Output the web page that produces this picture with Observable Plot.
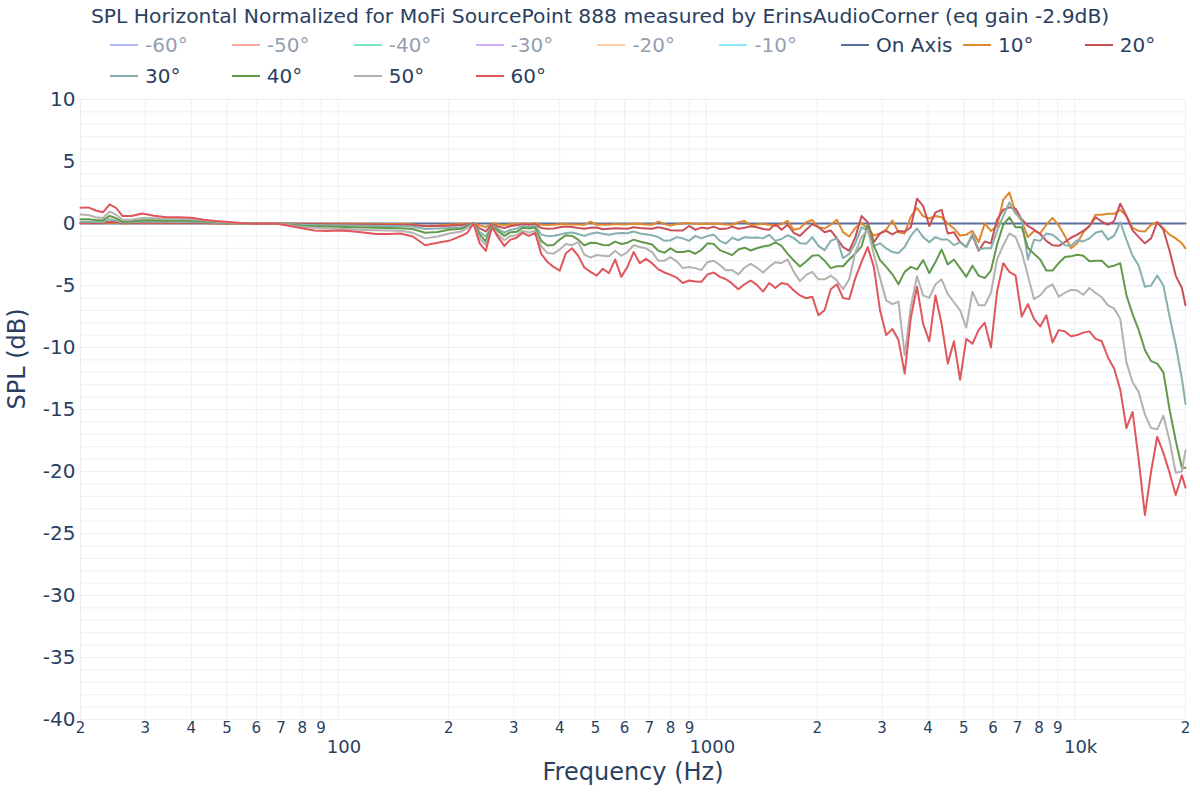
<!DOCTYPE html>
<html>
<head>
<meta charset="utf-8">
<script src="https://cdn.jsdelivr.net/npm/d3@7"></script>
<script src="https://cdn.jsdelivr.net/npm/@observablehq/plot@0.6"></script>
<style>
  html, body { margin: 0; padding: 0; background: #fff; }
  body { font-family: "DejaVu Sans", sans-serif; color: #2a3f5f; }
  #page { position: relative; width: 1200px; height: 800px; overflow: hidden; }
  #header { position: relative; width: 1200px; height: 86px; }
  #title { position: absolute; left: 91px; top: 3px; font-size: 20.3px; line-height: 26px; white-space: nowrap; }
  .lg { position: absolute; height: 26px; display: flex; align-items: center; font-size: 20px; white-space: nowrap; }
  .lg svg { margin-right: 7px; }
  .lg.off { opacity: 0.5; }
</style>
</head>
<body>
<div id="page">
  <div id="header">
    <div id="title"></div>
    <div id="legend"></div>
  </div>
  <div id="chart"></div>
</div>
<script>
// ---------------- data ----------------
const titleText = "SPL Horizontal Normalized for MoFi SourcePoint 888 measured by ErinsAudioCorner (eq gain -2.9dB)";

const freq = [
  20, 21, 22, 23, 24, 25, 26, 27.5, 29.4, 31.7, 34.3, 37, 40, 43.2, 46.6, 50.4, 54.4, 58.7, 63.4, 68.5,
  74, 79.9, 86.3, 93.2, 100.7, 108.7, 117.4, 126.8, 137, 147.9, 159.7, 172.5, 186.3,
  200, 208, 216, 224.5, 233.3, 242.5, 252, 261.9, 272.2, 282.9,
  294, 305.5, 317.5, 330, 343, 356.4, 370.4, 384.9, 400, 415.7,
  432, 449, 466.6, 484.9, 504, 523.8, 544.3, 565.7, 587.9, 611,
  635, 659.9, 685.8, 712.7, 740.7, 769.8, 800, 831.4, 864, 898,
  933.2, 969.8, 1008, 1047.6, 1088.7, 1131.4, 1175.8, 1222, 1270, 1319.8,
  1371.6, 1425.5, 1481.4, 1539.6, 1600, 1662.8, 1728, 1795.9, 1866.4, 1939.7,
  2015.9, 2095, 2177.2, 2262.7, 2351.6, 2443.9, 2539.8, 2639.6, 2743.3, 2851,
  2962.9, 3079.2, 3200, 3325.6, 3456.2, 3591.9, 3732.9, 3879.4, 4031.7, 4190,
  4354.4, 4525.4, 4703, 4887.7, 5079.7, 5279, 5486.4, 5701.8, 5925.7, 6158.3,
  6400, 6651.2, 6912.4, 7183.7, 7465.8, 7758.9, 8063.5, 8380, 8709, 9051,
  9406.4, 9775.7, 10159, 10558, 10972, 11404, 11852, 12317, 12800, 13302,
  13825, 14367, 14931, 15518, 16127, 16761, 17419, 18103, 18813, 19552,
  20000
];

const onAxisFreq = [20, 20000];
const onAxis = [0, 0];

const deg10 = [
  0.02, 0.02, 0.02, 0.02, 0.08, 0.05, 0.01, 0.02, 0.03, 0.03, 0.03, 0.02, 0.02, 0.02, 0.01, 0, 0, 0, 0, 0,
  -0.01, -0.02, -0.02, -0.03, -0.03, -0.03, -0.04, -0.04, -0.05, -0.05, -0.07, -0.2, -0.17,
  -0.1, -0.07, -0.05, -0.05, 0.0, -0.15, -0.28, 0.0, -0.08, -0.12,
  -0.05, -0.05, 0.0, -0.03, 0.0, -0.1, -0.12, -0.1, -0.06, -0.05,
  -0.08, -0.08, -0.1, 0.16, -0.1, -0.08, -0.1, -0.05, -0.08, -0.06,
  -0.03, -0.05, -0.08, -0.1, 0.16, -0.05, -0.16, -0.05, 0.0, 0.05,
  -0.05, -0.05, -0.03, -0.03, -0.05, -0.08, -0.1, 0.1, 0.2, -0.14,
  -0.08, -0.03, -0.1, -0.2, -0.05, 0.22, -0.5, -0.38, 0.1, 0.28,
  -0.3, -0.4, -0.1, 0.3, -0.7, -1.05, -0.35, 0.05, -0.45, -0.97,
  -0.8, -0.5, 0.24, -0.7, -0.8, 0.55, 1.25, 0.6, 0.4, 0.6,
  0.5, 0.0, -0.4, -0.97, -0.9, -0.6, -1.5, 0.0, -0.6, -0.2,
  1.9, 2.5, 0.9, 0.2, -1.1, -0.6, -0.8, -0.1, 0.45, -0.15,
  -1.0, -2.0, -1.6, -0.7, -0.2, 0.7, 0.7, 0.78, 0.78, 1.1,
  0.6, -0.35, -0.6, -0.65, -0.1, 0.1, -0.4, -0.9, -1.2, -1.6,
  -2.0
];

const deg20 = [
  0.06, 0.06, 0.05, 0.04, 0.15, 0.1, 0.03, 0.05, 0.07, 0.07, 0.07, 0.06, 0.05, 0.04, 0.03, 0.01, 0, 0, 0, 0,
  -0.02, -0.04, -0.05, -0.06, -0.07, -0.08, -0.08, -0.09, -0.1, -0.1, -0.12, -0.22, -0.2,
  -0.18, -0.15, -0.12, -0.06, 0.0, -0.4, -0.64, -0.05, -0.25, -0.37,
  -0.2, -0.15, -0.05, -0.1, -0.05, -0.37, -0.43, -0.4, -0.3, -0.25,
  -0.28, -0.36, -0.42, -0.35, -0.33, -0.46, -0.42, -0.38, -0.4, -0.42,
  -0.3, -0.37, -0.4, -0.43, -0.3, -0.4, -0.55, -0.56, -0.56, -0.2,
  -0.5, -0.33, -0.4, -0.25, -0.45, -0.43, -0.25, -0.42, -0.35, -0.23,
  -0.3, -0.45, -0.5, -0.05, -0.5, -0.1, -0.75, -1.0, -0.5, -0.05,
  -0.3, -0.7, -0.56, -1.2, -1.9, -2.2, -1.1, 0.6, 0.1, -1.5,
  -0.8, -0.6, -0.88, -0.6, -0.65, -0.3, 2.0, 1.4, -0.2, 0.9,
  1.1, -0.8, -0.7, -1.5, -1.9, -0.95, -2.2, -1.45, -1.6, 0.3,
  1.1, 1.3, 1.2, 0.35, -0.2, -0.5, -0.85, -1.4, -1.75, -1.8,
  -1.5, -1.15, -0.9, -0.6, -0.2, 0.5, 0.15, -0.1, 0.2, 1.6,
  0.6, -0.55, -1.1, -1.6, -1.2, 0.1, -0.5, -2.2, -4.2, -5.2,
  -6.6
];

const deg30 = [
  0.15, 0.15, 0.12, 0.1, 0.35, 0.22, 0.08, 0.1, 0.15, 0.15, 0.14, 0.13, 0.12, 0.1, 0.06, 0.03, 0.01, -0.01, 0, 0,
  -0.05, -0.1, -0.12, -0.14, -0.15, -0.17, -0.18, -0.2, -0.2, -0.2, -0.25, -0.45, -0.4,
  -0.36, -0.33, -0.3, -0.15, 0.0, -0.7, -1.05, -0.15, -0.45, -0.74,
  -0.5, -0.42, -0.18, -0.28, -0.17, -0.88, -1.02, -0.99, -0.9, -0.76,
  -0.72, -0.85, -1.0, -0.82, -0.72, -0.82, -0.9, -0.8, -0.76, -0.78,
  -0.65, -0.8, -0.87, -0.95, -1.1, -1.4, -1.35, -1.1, -1.2, -1.4,
  -1.0, -1.2, -1.0, -0.9, -1.4, -1.62, -1.15, -1.35, -1.1, -1.15,
  -1.12, -1.2, -0.91, -1.4, -1.25, -0.95, -1.18, -1.6, -1.64, -1.1,
  -1.8, -2.15, -1.4, -1.2, -2.8, -2.45, -1.6, -0.3, -0.6, -1.8,
  -1.6, -2.0, -2.3, -2.38, -1.9, -1.0, -0.4, -1.1, -1.5, -1.1,
  -1.3, -1.3, -1.75, -1.5, -1.9, -0.8, -2.1, -2.0, -2.0, -0.6,
  0.6, 1.7, 0.8, 0.4, -2.9, -1.3, -1.4, -0.8, -0.9, -1.3,
  -1.75, -1.8, -1.35, -1.45, -1.2, -0.75, -0.6, -1.3, -1.0, 0.1,
  -1.3, -2.6, -3.4, -5.1, -5.0, -4.2, -5.0, -7.5, -9.8, -12.5,
  -14.55
];

const deg40 = [
  0.35, 0.35, 0.28, 0.25, 0.62, 0.42, 0.15, 0.18, 0.27, 0.27, 0.25, 0.25, 0.23, 0.17, 0.12, 0.06, 0.02, -0.02, 0, 0,
  -0.1, -0.18, -0.22, -0.25, -0.27, -0.3, -0.33, -0.35, -0.36, -0.38, -0.45, -0.75, -0.68,
  -0.5, -0.46, -0.43, -0.22, 0.0, -0.9, -1.45, -0.2, -0.6, -1.0,
  -0.7, -0.67, -0.35, -0.4, -0.32, -1.4, -1.78, -1.74, -1.3, -0.95,
  -1.0, -1.3, -1.77, -1.55, -1.58, -1.74, -1.75, -1.46, -1.65, -1.55,
  -1.3, -1.45, -1.57, -1.7, -2.2, -2.35, -2.0, -2.3, -2.3, -2.2,
  -2.44, -2.12, -1.6, -1.65, -2.15, -2.35, -2.55, -2.1, -1.95, -2.18,
  -2.0, -1.85, -1.78, -1.52, -1.8, -2.45, -2.98, -3.47, -3.07, -2.6,
  -2.55, -3.0, -3.6, -3.45, -3.45, -2.9, -2.4, -1.85, -0.1, -1.8,
  -2.95, -3.5, -4.1, -4.9, -3.9, -3.5, -3.7, -2.95, -4.0, -3.1,
  -2.1, -3.3, -2.9, -3.6, -4.3, -3.4, -4.2, -4.4, -3.8, -1.7,
  -0.1, 0.5, -0.3, -0.3, -1.95, -2.45, -2.9, -3.79, -3.8, -3.2,
  -2.7, -2.65, -2.52, -2.6, -3.05, -3.0, -3.0, -3.5, -3.4, -3.2,
  -5.8, -7.3, -8.6, -10.2, -11.1, -11.3, -12.0, -15.0, -17.5, -19.7,
  -19.7
];

const deg50 = [
  0.73, 0.68, 0.5, 0.45, 0.95, 0.7, 0.3, 0.3, 0.45, 0.42, 0.4, 0.37, 0.35, 0.25, 0.17, 0.08, 0.02, -0.03, 0, 0,
  -0.15, -0.28, -0.35, -0.4, -0.42, -0.47, -0.52, -0.55, -0.57, -0.58, -0.75, -1.2, -1.05,
  -0.8, -0.72, -0.65, -0.35, 0.0, -1.2, -1.75, -0.3, -0.9, -1.35,
  -1.0, -0.95, -0.6, -0.72, -0.58, -1.85, -2.37, -2.43, -2.1, -1.66,
  -1.75, -1.5, -2.5, -2.75, -2.54, -2.6, -2.65, -2.2, -2.6, -2.3,
  -1.75, -1.9, -2.0, -2.3, -3.0, -3.0, -2.72, -3.05, -3.6, -3.5,
  -3.6, -3.75, -3.1, -3.0, -3.35, -3.78, -3.75, -4.1, -3.55, -3.26,
  -3.55, -3.95, -3.5, -3.12, -3.2, -2.9, -3.9, -4.65, -4.15, -3.9,
  -4.5, -4.5, -4.2, -4.6, -5.3, -4.5, -2.3, -1.1, -0.5, -2.5,
  -4.4, -6.2, -6.5, -6.3, -10.6, -6.7, -4.25, -5.8, -6.0, -4.9,
  -4.5, -5.7, -6.35, -7.0, -8.4, -5.5, -6.6, -6.6, -5.6, -2.9,
  -1.78, -0.8, -1.1, -2.3, -4.2, -6.1, -5.8, -5.2, -4.9, -5.9,
  -5.6, -5.35, -5.4, -5.75, -5.2, -5.6, -5.95, -6.6, -6.85, -7.7,
  -11.2, -12.8, -13.6, -15.4, -16.5, -16.6, -15.5, -17.5, -20.1, -20.0,
  -18.3
];

const deg60 = [
  1.27, 1.3, 1.05, 0.9, 1.55, 1.25, 0.6, 0.6, 0.8, 0.62, 0.51, 0.5, 0.47, 0.3, 0.2, 0.13, 0.05, -0.03, 0.0, -0.02,
  -0.2, -0.38, -0.56, -0.6, -0.57, -0.63, -0.73, -0.85, -0.85, -0.8, -1.05, -1.75, -1.55,
  -1.4, -1.2, -1.0, -0.75, 0.0, -1.6, -2.2, -0.3, -1.1, -1.8,
  -1.3, -1.15, -0.75, -1.0, -0.75, -2.45, -3.1, -3.5, -3.8, -2.4,
  -2.0, -2.6, -3.55, -3.9, -4.2, -3.65, -4.0, -2.9, -4.3, -3.5,
  -2.3, -3.2, -2.85, -3.2, -3.7, -3.95, -4.14, -4.37, -4.8, -4.6,
  -4.68, -4.7, -4.1, -3.95, -4.3, -4.5, -4.85, -5.3, -4.9, -4.6,
  -4.95, -5.49, -4.8, -5.2, -4.8, -4.9, -5.4, -5.8, -6.03, -5.9,
  -7.4, -7.0, -5.3, -4.9, -6.0, -6.1, -4.4, -3.1, -1.9, -3.5,
  -7.0, -9.0, -8.5, -9.4, -12.1, -7.6, -5.1, -8.1, -9.5, -5.8,
  -8.1, -11.3, -9.5, -12.6, -9.3, -9.7, -8.6, -8.0, -10.0, -5.5,
  -3.2, -3.9, -4.2, -7.5, -6.5, -7.7, -8.3, -7.4, -9.6, -8.6,
  -8.7, -9.1, -9.0, -8.8, -8.7, -9.3, -9.5, -10.8, -11.7, -13.4,
  -16.5, -15.2, -19.1, -23.5, -20.0, -17.2, -18.5, -20.1, -21.9, -20.3,
  -21.3
];

const legendNames   = ["-60°", "-50°", "-40°", "-30°", "-20°", "-10°", "On Axis", "10°", "20°", "30°", "40°", "50°", "60°"];
const legendColors  = ["#636efa", "#ef553b", "#00cc96", "#ab63fa", "#ffa15a", "#19d3f3",
                       "#5a6e9e", "#e0882c", "#c95058", "#86b0ae", "#63994a", "#b5b1ae", "#e0565a"];
const legendVisible = [false, false, false, false, false, false, true, true, true, true, true, true, true];

const xMinorTicks  = [20, 30, 40, 50, 60, 70, 80, 90, 200, 300, 400, 500, 600, 700, 800, 900,
                      2000, 3000, 4000, 5000, 6000, 7000, 8000, 9000, 20000];
const xMinorLabels = ["2", "3", "4", "5", "6", "7", "8", "9", "2", "3", "4", "5", "6", "7", "8", "9",
                      "2", "3", "4", "5", "6", "7", "8", "9", "2"];
const xMajorTicks  = [100, 1000, 10000];
const xMajorLabels = ["100", "1000", "10k"];
const yTicks = [10, 5, 0, -5, -10, -15, -20, -25, -30, -35, -40];
const yGrid = d3.range(-40, 11, 1);
const xGrid = [...xMinorTicks, ...xMajorTicks];

// ---------------- header ----------------
document.getElementById("title").textContent = titleText;
const legend = document.getElementById("legend");
legendNames.forEach((name, i) => {
  const row = i < 9 ? 0 : 1;
  const col = i < 9 ? i : i - 9;
  const el = document.createElement("div");
  el.className = "lg" + (legendVisible[i] ? "" : " off");
  el.style.left = (110 + 121.85 * col) + "px";
  el.style.top = (row === 0 ? 32 : 63) + "px";
  el.innerHTML = `<svg width="28" height="4"><line x1="0" y1="2" x2="28" y2="2" stroke="${legendColors[i]}" stroke-width="2"/></svg><span>${name}</span>`;
  legend.appendChild(el);
});

// ---------------- chart ----------------
const seriesList = [
  {name: "On Axis", f: onAxisFreq, v: onAxis, color: legendColors[6]},
  {name: "10°", f: freq, v: deg10, color: legendColors[7]},
  {name: "20°", f: freq, v: deg20, color: legendColors[8]},
  {name: "30°", f: freq, v: deg30, color: legendColors[9]},
  {name: "40°", f: freq, v: deg40, color: legendColors[10]},
  {name: "50°", f: freq, v: deg50, color: legendColors[11]},
  {name: "60°", f: freq, v: deg60, color: legendColors[12]}
];

const lineMarks = seriesList.map(s =>
  Plot.line(s.v.map((v, i) => ({f: s.f[i], v})), {x: "f", y: "v", stroke: s.color, strokeWidth: 2})
);

const chart = Plot.plot({
  width: 1200,
  height: 714,
  marginLeft: 80,
  marginRight: 15,
  marginTop: 13,
  marginBottom: 81,
  style: {fontFamily: "'DejaVu Sans', sans-serif", fontSize: "18px", color: "#2a3f5f", background: "#ffffff"},
  x: {type: "log", domain: [20, 20000], axis: null},
  y: {domain: [-40, 10]},
  marks: [
    Plot.ruleY(yGrid, {stroke: "#ebf0f8", strokeWidth: 1}),
    Plot.ruleX(xGrid, {stroke: "#ebf0f8", strokeWidth: 1}),
    ...lineMarks,
    Plot.axisY(yTicks, {tickSize: 0, tickPadding: 5, fontSize: 20, tickFormat: d => String(d), label: null}),
    Plot.text(xMinorTicks, {x: d => d, text: (d, i) => xMinorLabels[i], frameAnchor: "bottom", dy: 13,
      fontSize: 15, fill: "#2a3f5f"}),
    Plot.text(xMajorTicks, {x: d => d, text: (d, i) => xMajorLabels[i], frameAnchor: "bottom", dy: 33, dx: 6,
      fontSize: 18, fill: "#2a3f5f"}),
    Plot.text(["Frequency (Hz)"], {text: d => d, frameAnchor: "bottom", dy: 60, fontSize: 24, fill: "#2a3f5f"}),
    Plot.text(["SPL (dB)"], {text: d => d, frameAnchor: "left", dx: -63, rotate: -90, fontSize: 24, fill: "#2a3f5f"})
  ]
});
document.getElementById("chart").appendChild(chart);
</script>
</body>
</html>
